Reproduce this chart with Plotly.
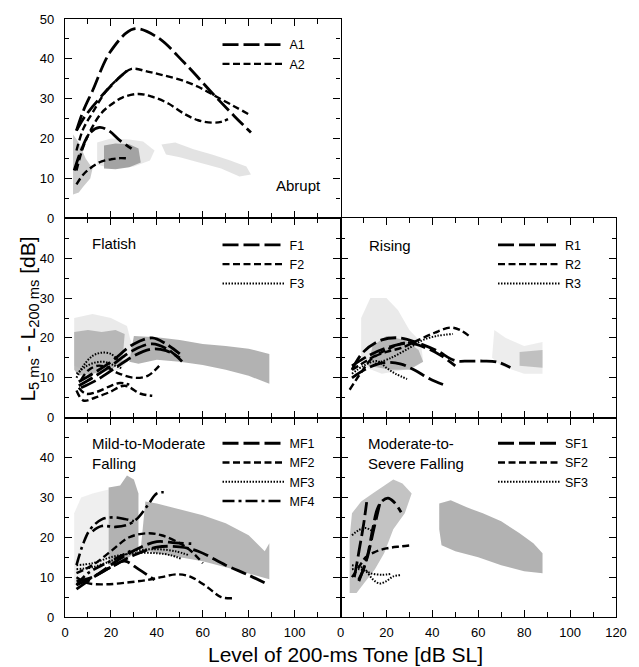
import plotly.graph_objects as go

FONT = "Liberation Sans, Arial, sans-serif"

# ---------------- data ----------------
# Panel "Abrupt"
A1_x = [[5, 8, 12, 20, 30, 40, 52, 64, 74, 81],
        [5, 8, 12, 18, 24, 28],
        [4, 7, 11, 15, 19, 24, 29]]
A1_y = [[22, 27, 32, 42, 47.5, 45.5, 39, 31.5, 25.5, 21.5],
        [22, 25, 28, 32, 35.5, 37.5],
        [12, 17, 21.5, 22.8, 22, 19.5, 17.5]]
A2_x = [[5, 8, 12, 18, 24, 29, 36, 42, 50, 58, 66, 74, 81],
        [5, 8, 12, 16, 20, 25, 32, 38, 45, 52, 58, 64, 68, 71],
        [5, 8, 12, 16, 20, 24, 28]]
A2_y = [[17, 22.5, 26.5, 32, 35.5, 37.5, 36.8, 36, 34.8, 33, 30.5, 28, 25.8],
        [12, 18, 23, 26.5, 28.5, 30.3, 31.2, 30.5, 28.8, 26.2, 24.6, 24, 24.2, 24.9],
        [8.5, 11, 13, 14.3, 14.8, 15.1, 15]]

A_cloud_x = [[14, 14, 20, 28, 34, 39, 37, 30, 20],
             [17, 17, 22, 28, 32, 33, 28, 22],
             [3.5, 3.5, 6, 9, 12, 11, 8, 6],
             [42, 48, 56, 64, 72, 79, 81, 76, 68, 58, 50, 44]]
A_cloud_y = [[13.5, 19, 20, 19.8, 19.3, 17, 14.5, 13, 12.5],
             [12.5, 18.3, 18.8, 18.6, 17.5, 14, 12.8, 12.3],
             [6, 21, 19, 15, 12.5, 10, 8, 6.5],
             [18.5, 19, 17.3, 16, 14.5, 13, 11, 10.5, 12.5, 14, 15.3, 16]]
A_cloud_c = ["rgba(215,215,215,0.6)", "rgba(150,150,150,0.85)",
             "rgba(180,180,180,0.7)", "rgba(215,215,215,0.7)"]

# Panel "Flatish"
F1_x = [[6, 12, 20, 30, 38, 44, 50],
        [6, 12, 20, 30, 38, 45, 52],
        [7, 14, 22, 30, 38, 44, 50]]
F1_y = [[9, 11, 14, 18.5, 20, 18.5, 16],
        [8, 10, 13, 17, 18.5, 17, 13.5],
        [7.5, 9.5, 12.5, 15.5, 17.2, 16.8, 15]]
F2_x = [[5, 8, 13, 19, 26, 33, 38],
        [6, 9, 14, 20, 24, 28],
        [7, 10, 14, 18, 23, 30, 36, 41]]
F2_y = [[6.8, 4.3, 5, 6.3, 8, 6, 5.5],
        [7.5, 6, 6.5, 8, 8.7, 8.3],
        [9.5, 11.8, 13, 12.7, 11.2, 10, 10.5, 13]]
F3_x = [[5, 8, 12, 16, 20, 23],
        [5, 9, 13, 17, 21, 25]]
F3_y = [[10, 13, 15.5, 16.3, 16, 14.5],
        [11, 12.8, 13.8, 14, 13.2, 12.3]]

F_cloud_x = [[4, 4, 12, 20, 27, 30, 24, 12],
             [4, 4, 10, 16, 22, 26, 25, 20, 12, 6],
             [28, 30, 40, 50, 60, 70, 80, 89, 89, 80, 70, 60, 50, 40, 32]]
F_cloud_y = [[13, 25, 26, 25, 23, 16, 12, 11],
             [12, 21.5, 22, 21.5, 22, 21, 14, 12, 11, 10.5],
             [14, 20.5, 20.2, 19.5, 18.5, 18, 17.3, 16, 8.5, 10.5, 12, 13.2, 14, 14.5, 13.5]]
F_cloud_c = ["rgba(220,220,220,0.6)", "rgba(170,170,170,0.8)", "rgba(165,165,165,0.85)"]

# Panel "Rising"
R1_x = [[5, 10, 18, 26, 34, 42, 50, 56, 62, 68, 74],
        [5, 12, 19, 26, 32, 39, 46],
        [5, 12, 20, 30, 38, 44, 50]]
R1_y = [[12, 16.5, 19.5, 20, 18.7, 16.8, 14.3, 14.2, 14.2, 14, 12.6],
        [10, 12.5, 13.8, 13.5, 12, 9.7, 8],
        [13, 15.5, 17.5, 18.7, 17.3, 15.5, 13]]
R2_x = [[4, 8, 14, 20, 27, 34, 41, 48, 52, 56],
        [5, 12, 20, 28, 34]]
R2_y = [[7, 10.5, 15, 16.5, 17.6, 19.5, 21.3, 22.6, 22, 20.5],
        [12, 14.5, 17, 18.8, 18.5]]
R3_x = [[5, 10, 16, 20, 24, 29],
        [15, 22, 30, 36, 42, 49]]
R3_y = [[11, 13, 14.2, 12.5, 11, 9.7],
        [13.5, 15, 17.5, 19.5, 20.5, 21]]

R_cloud_x = [[9, 9, 13, 20, 25, 30, 35, 36, 28, 18],
             [12, 14, 20, 28, 34, 36, 30, 22],
             [66, 67, 72, 80, 88, 88, 80, 70],
             [78, 88, 88, 78]]
R_cloud_y = [[13, 25, 30, 30, 27, 22, 19, 14, 12, 11],
             [13, 18, 20.5, 19.5, 17, 14, 12, 12],
             [15, 22, 20, 18, 19, 11, 11, 13],
             [16.5, 17, 12.5, 13]]
R_cloud_c = ["rgba(220,220,220,0.6)", "rgba(165,165,165,0.75)",
             "rgba(225,225,225,0.6)", "rgba(180,180,180,0.8)"]

# Panel "Mild-to-Moderate Falling"
MF1_x = [[5, 12, 20, 30, 40, 50, 58, 70, 80, 89],
         [5, 15, 25, 33, 40, 48, 55],
         [5, 12, 20, 26, 32, 39]]
MF1_y = [[8, 10, 12.5, 15.5, 17.5, 17.6, 16.5, 13, 10.5, 8],
         [7, 11, 15, 17.5, 18.9, 18.6, 18.4],
         [9, 10, 12.5, 14, 12, 9.3]]
MF2_x = [[5, 10, 18, 28, 36, 42, 49, 55, 62, 68, 73],
         [5, 12, 20, 28, 36, 42, 50, 55, 60]]
MF2_y = [[10, 8.5, 8.2, 8.7, 9.3, 10, 10.7, 10, 7.5, 5, 4.7],
         [11, 13, 16.5, 20, 21, 20.5, 18.5, 16.5, 13.5]]
MF3_x = [[5, 12, 20, 30, 40, 46, 51],
         [5, 12, 22, 30, 40, 48, 54]]
MF3_y = [[13, 13.5, 15, 16, 16, 15.5, 14.5],
         [12, 12.5, 14.5, 16.5, 17, 16.5, 15.5]]
MF4_x = [[5, 8, 11, 16, 21, 26, 30],
         [12, 16, 22, 28, 32, 36, 40, 43],
         [5, 10, 18, 25, 30]]
MF4_y = [[13, 18.5, 22, 24.5, 25, 24.6, 24],
         [21.5, 22.8, 22.6, 23.3, 25, 28, 31, 31.3],
         [8, 11, 13.5, 15.5, 17]]

MF_cloud_x = [[4, 4, 7, 12, 19, 19, 15, 10],
              [19, 19, 24, 27, 30, 32, 32, 28, 22],
              [33, 35, 40, 50, 60, 70, 80, 87, 89, 89, 80, 70, 60, 50, 40]]
MF_cloud_y = [[8, 26, 30, 31, 32, 15, 11, 9],
              [13, 32.5, 33, 35.5, 34.5, 31, 17, 15, 14],
              [17, 29, 28.5, 27, 25.5, 23.5, 20.5, 16.5, 18.5, 9.5, 11, 12.5, 14, 15, 16]]
MF_cloud_c = ["rgba(225,225,225,0.55)", "rgba(165,165,165,0.85)", "rgba(170,170,170,0.85)"]

# Panel "Moderate-to-Severe Falling"
SF1_x = [[6, 7, 8.5, 10, 11.4],
         [8, 10, 12, 14, 16, 18, 20.7, 23, 26.4],
         [7.9, 10, 12.1, 14.5, 17.1]]
SF1_y = [[10, 13, 18, 23, 28.8],
         [9, 12, 16, 22, 27, 29, 29.8, 29, 26.3],
         [9.3, 12, 15.9, 22, 28.4]]
SF2_x = [[5, 8, 11, 15, 20, 26, 31]]
SF2_y = [[10, 12.5, 15, 16.3, 17.2, 17.7, 18]]
SF3_x = [[5, 8, 11, 14, 17, 20, 23, 26],
         [5, 8, 11, 14],
         [5, 9, 13, 18, 22]]
SF3_y = [[12, 12, 11.5, 9.5, 8.4, 9, 10.2, 10.5],
         [20.5, 21.8, 22.3, 21.5],
         [13, 12.5, 11, 10.6, 10.8]]

SF_cloud_x = [[4, 4, 5, 9, 14, 19, 23, 27, 31, 28, 23, 19, 15, 11, 7],
              [43, 48, 55, 62, 70, 78, 84, 88, 88, 80, 70, 60, 50, 44, 43]]
SF_cloud_y = [[6, 20, 26, 29, 31, 33, 34.5, 33.5, 31, 26, 22, 16, 12, 9, 6],
              [28.5, 29.3, 27.5, 26, 24, 21, 18.5, 16, 11, 11.5, 13, 15, 16.5, 18, 22]]
SF_cloud_c = ["rgba(175,175,175,0.75)", "rgba(165,165,165,0.85)"]

X_TICKS = [0, 20, 40, 60, 80, 100, 120]
X_MINOR = [10, 30, 50, 70, 90, 110]
Y_TICKS = [0, 10, 20, 30, 40, 50]
Y_MINOR = [5, 15, 25, 35, 45]

# ---------------- styles ----------------
STY = {
    "long": dict(dash="16px,5px", width=2.8),
    "short": dict(dash="7px,3.5px", width=2.4),
    "dot": dict(dash="1.5px,1.5px", width=2.0),
    "dashdot": dict(dash="12px,4px,3px,4px", width=2.6),
}

fig = go.Figure()

def add_clouds(xs, ys, cols, ax):
    for x, y, c in zip(xs, ys, cols):
        fig.add_trace(go.Scatter(x=x + [x[0]], y=y + [y[0]], mode="lines", fill="toself",
                                 fillcolor=c, line=dict(width=0), hoverinfo="skip",
                                 showlegend=False, xaxis="x" + ax, yaxis="y" + ax))

def add_series(name, xs, ys, style, ax, leg):
    for i, (x, y) in enumerate(zip(xs, ys)):
        fig.add_trace(go.Scatter(x=x, y=y, mode="lines", name=name, legendgroup=name,
                                 showlegend=(i == 0), legend=leg,
                                 line=dict(color="black", shape="spline", smoothing=1.0, **STY[style]),
                                 xaxis="x" + ax, yaxis="y" + ax))

add_clouds(A_cloud_x, A_cloud_y, A_cloud_c, "")
add_series("A1", A1_x, A1_y, "long", "", "legend")
add_series("A2", A2_x, A2_y, "short", "", "legend")

add_clouds(F_cloud_x, F_cloud_y, F_cloud_c, "2")
add_series("F1", F1_x, F1_y, "long", "2", "legend2")
add_series("F2", F2_x, F2_y, "short", "2", "legend2")
add_series("F3", F3_x, F3_y, "dot", "2", "legend2")

add_clouds(R_cloud_x, R_cloud_y, R_cloud_c, "3")
add_series("R1", R1_x, R1_y, "long", "3", "legend3")
add_series("R2", R2_x, R2_y, "short", "3", "legend3")
add_series("R3", R3_x, R3_y, "dot", "3", "legend3")

add_clouds(MF_cloud_x, MF_cloud_y, MF_cloud_c, "4")
add_series("MF1", MF1_x, MF1_y, "long", "4", "legend4")
add_series("MF2", MF2_x, MF2_y, "short", "4", "legend4")
add_series("MF3", MF3_x, MF3_y, "dot", "4", "legend4")
add_series("MF4", MF4_x, MF4_y, "dashdot", "4", "legend4")

add_clouds(SF_cloud_x, SF_cloud_y, SF_cloud_c, "5")
add_series("SF1", SF1_x, SF1_y, "long", "5", "legend5")
add_series("SF2", SF2_x, SF2_y, "short", "5", "legend5")
add_series("SF3", SF3_x, SF3_y, "dot", "5", "legend5")

# ---------------- axes ----------------
def xax(domain, anchor, labels):
    return dict(domain=domain, anchor=anchor, range=[0, 120], tickmode="array",
                tickvals=X_TICKS, ticktext=labels, showticklabels=labels is not None,
                ticks="inside", ticklen=7, tickwidth=1.2, tickcolor="black",
                ticklabelstandoff=3,
                minor=dict(tickmode="array", tickvals=X_MINOR, ticks="inside", ticklen=5,
                           tickwidth=1, tickcolor="black"),
                showline=True, linecolor="black", linewidth=1.2, mirror="ticks",
                showgrid=False, zeroline=False,
                tickfont=dict(family=FONT, size=13, color="black"))

def yax(domain, anchor, labels):
    return dict(domain=domain, anchor=anchor, range=[0, 50], tickmode="array",
                tickvals=Y_TICKS, ticktext=labels, showticklabels=labels is not None,
                ticks="inside", ticklen=7, tickwidth=1.2, tickcolor="black",
                ticklabelstandoff=7,
                minor=dict(tickmode="array", tickvals=Y_MINOR, ticks="inside", ticklen=4,
                           tickwidth=1, tickcolor="black"),
                showline=True, linecolor="black", linewidth=1.2, mirror="ticks",
                showgrid=False, zeroline=False,
                tickfont=dict(family=FONT, size=13, color="black"))

top = [2/3, 1.0]
mid = [1/3, 2/3]
bot = [0.0, 1/3]
L = [0.0, 0.5]
Rr = [0.5, 1.0]

ylab_full = ["0", "10", "20", "30", "40", "50"]
ylab_cut = ["0", "10", "20", "30", "40", ""]

def legend_at(px, py):
    return dict(x=(px - 65) / 560, y=(617 - py) / 600, xref="paper", yref="paper",
                xanchor="left", yanchor="top", bgcolor="rgba(0,0,0,0)", borderwidth=0,
                itemwidth=62, tracegroupgap=0,
                font=dict(family=FONT, size=12.5, color="black"))

fig.update_layout(
    width=639, height=667,
    margin=dict(l=65, r=14, t=17, b=50),
    paper_bgcolor="white", plot_bgcolor="white",
    font=dict(family=FONT, size=15, color="black"),
    xaxis=xax(L, "y", None), yaxis=yax(top, "x", ylab_full),
    xaxis2=xax(L, "y2", None), yaxis2=yax(mid, "x2", ylab_cut),
    xaxis3=xax(Rr, "y3", None), yaxis3=yax(mid, "x3", None),
    xaxis4=xax(L, "y4", ["0", "20", "40", "60", "80", "100", ""]), yaxis4=yax(bot, "x4", ylab_cut),
    xaxis5=xax(Rr, "y5", ["0", "20", "40", "60", "80", "100", "120"]), yaxis5=yax(bot, "x5", None),
    legend=legend_at(220, 28),
    legend2=legend_at(220, 229),
    legend3=legend_at(500, 229),
    legend4=legend_at(220, 428),
    legend5=legend_at(500, 428),
    showlegend=True,
)

ann = [
    dict(text="Abrupt", x=91, y=8.3, xref="x", yref="y", xanchor="left", yanchor="middle"),
    dict(text="Flatish", x=10.7, y=43.8, xref="x2", yref="y2", xanchor="left", yanchor="middle"),
    dict(text="Rising", x=11.6, y=43.3, xref="x3", yref="y3", xanchor="left", yanchor="middle"),
    dict(text="Mild-to-Moderate<br>Falling", x=10.7, y=41, xref="x4", yref="y4",
         xanchor="left", yanchor="middle", align="left"),
    dict(text="Moderate-to-<br>Severe Falling", x=11.1, y=41, xref="x5", yref="y5",
         xanchor="left", yanchor="middle", align="left"),
    dict(text="L<sub>5 ms</sub> - L<sub>200 ms</sub> [dB]", x=(28 - 65) / 560, y=(617 - 318) / 600,
         xref="paper", yref="paper", textangle=-90, xanchor="center", yanchor="middle",
         font=dict(size=21)),
    dict(text="Level of 200-ms Tone [dB SL]", x=(350 - 65) / 560, y=(617 - 655) / 600,
         xref="paper", yref="paper", xanchor="center", yanchor="middle", font=dict(size=21)),
]
for a in ann:
    a.setdefault("font", dict(size=15))
    a["font"] = dict(family=FONT, color="black", **a["font"])
    a["showarrow"] = False
fig.update_layout(annotations=ann)

fig.write_html("out.html", config={"displayModeBar": False},
               post_script="document.body.style.margin='0';")
